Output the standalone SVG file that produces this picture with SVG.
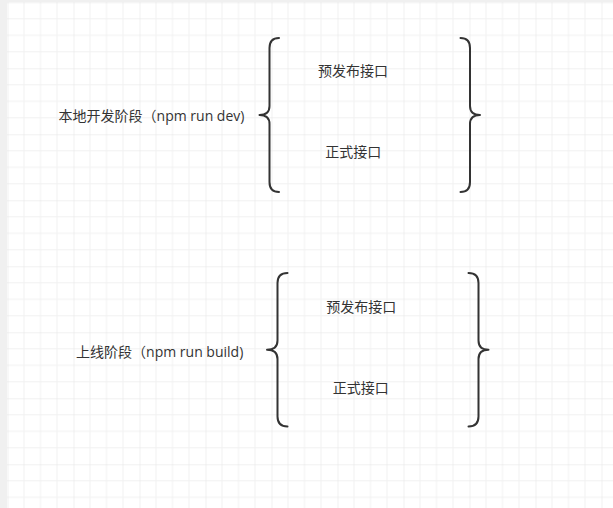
<svg xmlns="http://www.w3.org/2000/svg" width="613" height="508" viewBox="0 0 613 508">
  <style>
    .lbl { font-family: "Open Sans", "Noto Sans CJK SC", sans-serif; font-size: 14px; fill: #333333; text-anchor: middle; }
    .brace { fill: none; stroke: #333333; stroke-width: 2; stroke-linejoin: round; stroke-linecap: round; }
  </style>
  <defs>
    <pattern id="grid" patternUnits="userSpaceOnUse" x="7.5" y="2.3" width="66" height="66">
      <rect width="66" height="66" fill="#ffffff"/>
      <path d="M16.5,0V66M33,0V66M49.5,0V66M0,16.5H66M0,33H66M0,49.5H66" stroke="#f1f1f1" stroke-width="1"/>
      <path d="M0,0V66M0,0H66" stroke="#e3e3e3" stroke-width="1"/>
    </pattern>
  </defs>
  <rect width="613" height="508" fill="#f0f0f0"/>
  <rect x="7" y="2" width="606" height="506" fill="url(#grid)"/>

  <g id="stage-dev">
    <text class="lbl" x="151.5" y="121">本地开发阶段（npm run dev)</text>
  </g>
  <g id="brace-dev-left">
    <path class="brace" d="M279,38 Q269.5,38 269.5,48 L269.5,106 Q269.5,115 259.5,115 Q269.5,115 269.5,124 L269.5,182 Q269.5,192 279,192"/>
  </g>
  <g id="dev-pre">
    <text class="lbl" x="353" y="76">预发布接口</text>
  </g>
  <g id="dev-prod">
    <text class="lbl" x="353.3" y="157">正式接口</text>
  </g>
  <g id="brace-dev-right">
    <path class="brace" d="M460.5,38 Q470,38 470,48 L470,106 Q470,115 480,115 Q470,115 470,124 L470,182 Q470,192 460.5,192"/>
  </g>

  <g id="stage-build">
    <text class="lbl" x="159.7" y="357">上线阶段（npm run build)</text>
  </g>
  <g id="brace-build-left">
    <path class="brace" d="M287.5,273 Q277.5,273 277.5,283 L277.5,340.5 Q277.5,349.7 267,349.7 Q277.5,349.7 277.5,359 L277.5,416.5 Q277.5,426.5 287.5,426.5"/>
  </g>
  <g id="build-pre">
    <text class="lbl" x="361.3" y="311.5">预发布接口</text>
  </g>
  <g id="build-prod">
    <text class="lbl" x="360.8" y="393">正式接口</text>
  </g>
  <g id="brace-build-right">
    <path class="brace" d="M468.5,273 Q478.5,273 478.5,283 L478.5,340.5 Q478.5,349.7 488.5,349.7 Q478.5,349.7 478.5,359 L478.5,416.5 Q478.5,426.5 468.5,426.5"/>
  </g>

  <g id="connectors"></g>
</svg>
